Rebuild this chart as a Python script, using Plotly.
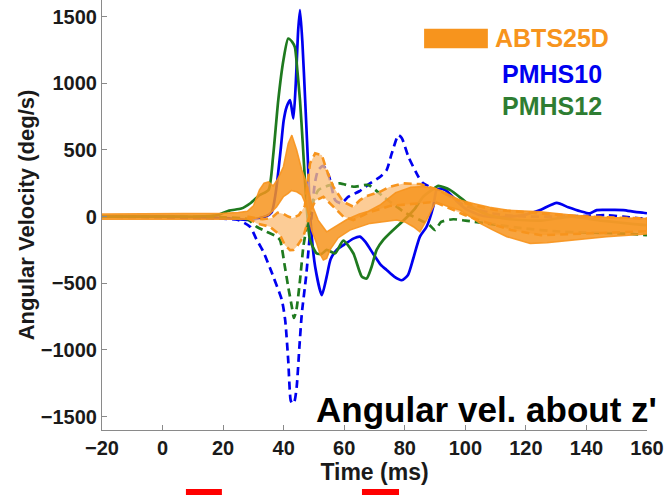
import plotly.graph_objects as go

# PMHS10, solid curve
t_p10_solid = [-20, 0, 10, 20, 25, 29, 34, 36, 37.5, 39, 40, 41, 42.1, 43.2, 44, 44.8, 45.4, 46.2, 47.1, 48,
               48.7, 50.4, 52.6, 54.2, 55.5, 57.5, 60, 63, 65.2, 67, 69.6, 72, 74, 76.5, 79, 81, 82.8, 85,
               87.2, 89.4, 90.5, 92, 94, 97, 100, 105, 110, 115, 120, 124.7, 130.2, 134, 138, 141.2, 143.4,
               148, 152.2, 156, 158.8, 160]
v_p10_solid = [0, 0, -5, -10, -20, -25, 0, 30, 200, 500, 720, 824, 874, 736, 1000, 1400, 1549, 1300, 874, 420,
               24, -376, -589, -450, -320, -250, -210, -165, -150, -190, -280, -360, -400, -450, -477, -440, -314, -150,
               -76, 74, 199, 210, 190, 120, 60, 10, -5, 0, 15, 49, 103, 70, 40, 24, 49,
               50, 49, 35, 29, 25]

# PMHS10, dashed curve
t_p10_dash = [-20, 0, 10, 20, 25, 28.9, 31, 33.3, 36.6, 39.4, 40.5, 41.5, 42.3, 42.8, 43.5, 44.3, 45.2, 46, 47.4,
              48.5, 49.3, 50.3, 51.4, 53.1, 55, 57, 59, 61.4, 65, 68.5, 72, 74, 75.7, 77.9, 79, 81.2, 84.5, 86.1,
              89.4, 91.6, 95, 100, 110, 120, 130, 140, 146.7, 152, 156.6, 160]
v_p10_dash = [0, -5, -10, -15, -25, -76, -170, -264, -451, -626, -776, -1076, -1376, -1400, -1390, -1276, -976, -726, -451,
              -176, 24, 250, 349, 380, 300, 124, 100, 149, 190, 249, 300, 349, 474, 611, 590, 449, 299, 249,
              211, 199, 150, 80, 20, 0, 0, 5, 11, 0, -11, -15]

# PMHS12, solid curve
t_p12_solid = [-20, 0, 10, 18, 22, 26, 29, 32, 35, 36.5, 38.2, 39.9, 41.5, 42.8, 43.7, 44.5, 45.4, 46.3, 47.1,
               48.7, 50.9, 52.5, 54.2, 57, 59.7, 63, 65.8, 67.4, 69, 70.7, 72.9, 76.2, 80, 83, 86.1, 89, 91.1,
               94.9, 99.3, 103, 108, 115, 125, 135, 145, 155, 160]
v_p12_solid = [0, 0, 0, 10, 45, 60, 100, 160, 200, 450, 870, 1170, 1335, 1310, 1270, 1100, 870, 550, 250,
               -175, -275, -280, -250, -275, -180, -275, -450, -465, -380, -250, -175, -100, -20, 50, 150, 200, 230,
               200, 125, 60, 10, -20, -30, 0, -30, -55, -65]

# PMHS12, dashed curve
t_p12_dash = [-20, 0, 20, 28, 31.1, 34, 37.7, 38.8, 40.4, 41.5, 42.7, 43.4, 44.2, 45.4, 46.5, 47.8, 49.5, 51.5,
              55.3, 58.6, 63, 68, 72.9, 77, 80, 82.8, 85, 88, 90, 92, 96, 100, 110, 120, 130, 140, 150, 155, 160]
v_p12_dash = [0, 0, -5, -20, -76, -110, -150, -176, -376, -526, -676, -760, -700, -476, -226, -51, 100, 200,
              236, 249, 224, 236, 149, 80, 30, 0, -26, -60, -101, -40, -20, -30, -60, -90, -110, -120, -125, -130, -140]

# ABTS25D corridor, solid-edged (upper and lower bounds)
t_abts_s_hi = [-20, 0, 10, 20, 25, 28, 30, 32, 33.5, 35, 36.5, 38, 39.9, 41.5, 42.7, 44.3, 46, 47.6, 49.2, 51.4,
               54.2, 58, 61, 65, 68, 72, 77, 82, 86, 90, 92, 95, 98.2, 102.6, 108, 113.7, 124.7, 135.7, 146.7, 160]
v_abts_s_hi = [20, 20, 20, 25, 30, 40, 80, 200, 250, 260, 230, 280, 374, 549, 611, 499, 349, 249, 99, -26,
               -114, -60, -20, 20, 40, 90, 180, 220, 225, 210, 195, 160, 124, 99, 70, 49, 36, 11, -6, -14]
t_abts_s_lo = [-20, 0, 10, 20, 25, 28, 30, 33, 35, 37.7, 39.9, 41.5, 42.5, 44.3, 46, 47.6, 49.2, 50.9, 52, 53.1,
               54.2, 55.3, 58, 61.9, 68.5, 77.3, 80, 82.8, 85, 87.2, 90, 91.6, 95, 98.2, 104.9, 109, 113.7, 121.4,
               126.9, 135.7, 146.7, 160]
v_abts_s_lo = [-20, -20, -20, -20, -20, -20, -15, -5, 10, 74, 149, 174, 195, 186, 161, 74, -101, -201, -280, -326,
               -314, -250, -160, -101, -51, -26, -40, -76, -114, -26, 99, 99, 70, 49, -51, -100, -151, -201,
               -196, -176, -151, -130]

# ABTS25D corridor, dashed-edged (upper and lower bounds)
t_abts_d_hi = [28, 30, 33, 36, 38, 40, 41.5, 43, 45, 47, 48.7, 50.4, 52.6, 54.2, 56.4, 59.7, 63, 65.2, 67.4,
               71.8, 75.1, 79.5, 85, 87.8, 91, 95, 100, 110, 120, 130, 140, 150, 160]
v_abts_d_hi = [0, -10, -20, -10, 30, 20, 0, -10, 10, 80, 399, 474, 461, 349, 224, 111, 74, 124, 154,
               186, 224, 249, 244, 224, 200, 150, 100, 50, 30, 15, 0, -10, -15]
t_abts_d_lo = [28, 31.1, 35.5, 38.8, 40.4, 42.1, 43.2, 44.5, 46.5, 48.1, 49.2, 50.5, 53.1, 55.3, 59.7, 63, 68,
               75, 85, 90, 95, 100, 105, 115, 125, 135, 145, 160]
v_abts_d_lo = [-10, -51, -76, -139, -214, -251, -250, -220, -151, -26, 60, 120, 149, 99, 0, -26, 30,
               80, 100, 110, 60, 10, -30, -100, -140, -130, -120, -110]

x_ticks = [-20, 0, 20, 40, 60, 80, 100, 120, 140, 160]
y_ticks = [-1500, -1000, -500, 0, 500, 1000, 1500]

BLUE = "#0000F0"
GREEN = "#1F7A1F"
ORANGE = "#F7941D"
FONT = "Liberation Sans, Arial, sans-serif"

fig = go.Figure()

curves = [
    (t_p10_solid, v_p10_solid, BLUE, "solid"),
    (t_p10_dash, v_p10_dash, BLUE, "8px,5px"),
    (t_p12_solid, v_p12_solid, GREEN, "solid"),
    (t_p12_dash, v_p12_dash, GREEN, "8px,5px"),
]
for t, v, c, d in curves:
    fig.add_trace(go.Scatter(x=t, y=v, mode="lines",
                             line=dict(color=c, width=2.7, dash=d, shape="spline", smoothing=0.6),
                             showlegend=False, hoverinfo="skip"))

# dashed corridor (light fill, dashed edges)
fig.add_trace(go.Scatter(x=t_abts_d_hi + t_abts_d_lo[::-1], y=v_abts_d_hi + v_abts_d_lo[::-1],
                         mode="lines", fill="toself", fillcolor="rgba(251,190,120,0.78)",
                         line=dict(width=0), showlegend=False, hoverinfo="skip"))
for t, v in [(t_abts_d_hi, v_abts_d_hi), (t_abts_d_lo, v_abts_d_lo)]:
    fig.add_trace(go.Scatter(x=t, y=v, mode="lines",
                             line=dict(color=ORANGE, width=2.6, dash="8px,5px"),
                             showlegend=False, hoverinfo="skip"))

# solid corridor
fig.add_trace(go.Scatter(x=t_abts_s_hi + t_abts_s_lo[::-1], y=v_abts_s_hi + v_abts_s_lo[::-1],
                         mode="lines", fill="toself", fillcolor="rgba(247,148,29,0.85)",
                         line=dict(color="rgba(247,148,29,0.9)", width=1.5),
                         showlegend=False, hoverinfo="skip"))

axis_common = dict(showgrid=False, zeroline=False, showline=True, linecolor="#8a8a8a", linewidth=1.2,
                   ticks="inside", ticklen=5, tickcolor="#8a8a8a",
                   tickfont=dict(family=FONT, size=20, color="#1a1a1a", weight="bold"))

fig.update_layout(
    width=667, height=495,
    margin=dict(l=102, r=20, t=0, b=65),
    paper_bgcolor="white", plot_bgcolor="white",
    xaxis=dict(range=[-20, 160], tickvals=x_ticks,
               title=dict(text="Time (ms)", standoff=2,
                          font=dict(family=FONT, size=23, color="#1a1a1a", weight="bold")),
               **axis_common),
    yaxis=dict(range=[-1600, 1624], tickvals=y_ticks,
               title=dict(text="Angular Velocity (deg/s)", standoff=0,
                          font=dict(family=FONT, size=22, color="#1a1a1a", weight="bold")),
               **axis_common),
    shapes=[
        dict(type="rect", xref="paper", yref="paper", x0=0.591, x1=0.708, y0=0.888, y1=0.933,
             fillcolor=ORANGE, line=dict(width=0)),
        dict(type="rect", xref="paper", yref="paper", x0=0.154, x1=0.220, y0=-0.151, y1=-0.137,
             fillcolor="#FF0000", line=dict(width=0)),
        dict(type="rect", xref="paper", yref="paper", x0=0.477, x1=0.545, y0=-0.151, y1=-0.137,
             fillcolor="#FF0000", line=dict(width=0)),
    ],
    annotations=[
        dict(text="ABTS25D", xref="paper", yref="paper", x=0.717, y=0.912, xanchor="left", yanchor="middle",
             showarrow=False, font=dict(family=FONT, size=25, color=ORANGE, weight="bold")),
        dict(text="PMHS10", xref="paper", yref="paper", x=0.730, y=0.828, xanchor="left", yanchor="middle",
             showarrow=False, font=dict(family=FONT, size=25, color=BLUE, weight="bold")),
        dict(text="PMHS12", xref="paper", yref="paper", x=0.730, y=0.753, xanchor="left", yanchor="middle",
             showarrow=False, font=dict(family=FONT, size=25, color="#2E7D32", weight="bold")),
        dict(text="Angular vel. about z'", xref="paper", yref="paper", x=1.022, y=0.047, xanchor="right",
             yanchor="middle", showarrow=False, font=dict(family=FONT, size=35, color="black", weight="bold")),
    ],
)

fig.write_html("out.html", config={"displayModeBar": False},
               post_script="document.body.style.margin='0px';")
